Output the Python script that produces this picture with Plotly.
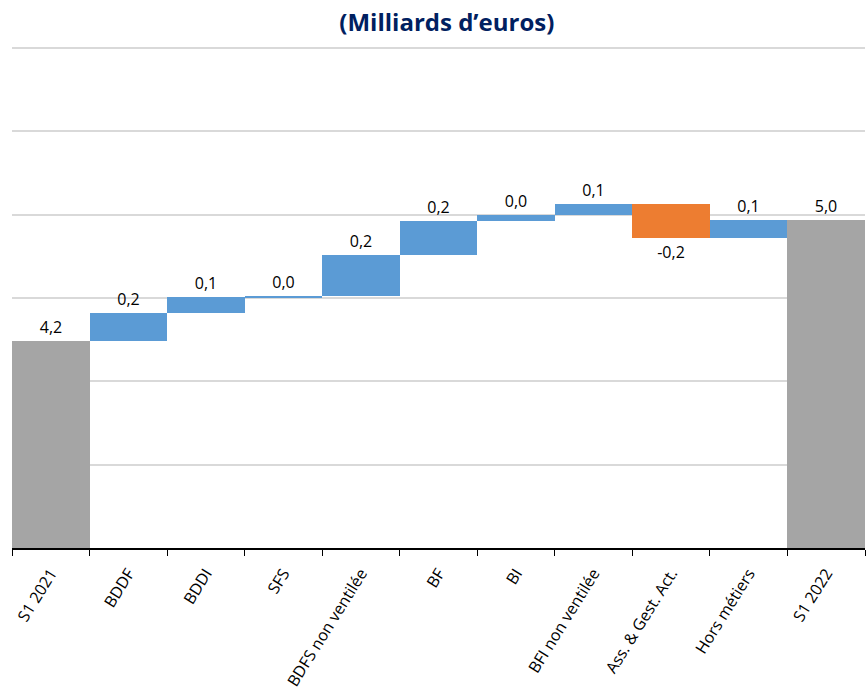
import plotly.graph_objects as go

categories = ["S1 2021", "BDDF", "BDDI", "SFS", "BDFS non ventilée", "BF", "BI",
              "BFI non ventilée", "Ass. & Gest. Act.", "Hors métiers", "S1 2022"]
start_value = 4.245
deltas = [0.164, 0.096, 0.008, 0.247, 0.202, 0.038, 0.062, -0.204, 0.112]

measures = ["absolute"] + ["relative"] * len(deltas) + ["total"]
values = [start_value] + deltas + [0]
end_value = start_value + sum(deltas)


def fr(v):
    return f"{v:.1f}".replace(".", ",")


texts = [fr(start_value)] + [fr(d) for d in deltas] + [fr(end_value)]

fig = go.Figure(go.Waterfall(
    x=categories,
    y=values,
    measure=measures,
    text=texts,
    textposition="outside",
    textfont=dict(family="Open Sans", size=16, color="#000000"),
    increasing=dict(marker=dict(color="#5B9BD5")),
    decreasing=dict(marker=dict(color="#ED7D31")),
    totals=dict(marker=dict(color="#A5A5A5")),
    connector=dict(visible=False),
    cliponaxis=False,
))

fig.update_layout(
    width=866, height=697,
    margin=dict(l=12, r=1, t=43, b=149, autoexpand=False),
    paper_bgcolor="white", plot_bgcolor="white",
    waterfallgap=0,
    showlegend=False,
    title=dict(text="<b>(Milliards d’euros)</b>", x=0.516, xanchor="center",
               y=0.968, yanchor="middle",
               font=dict(family="Open Sans", size=24, color="#002060")),
    font=dict(family="Open Sans", color="#000000"),
)
fig.update_xaxes(
    type="category",
    automargin=False,
    tickangle=-58,
    tickson="boundaries",
    ticks="outside", ticklen=6, tickcolor="#000000",
    ticklabelstandoff=8,
    showline=True, linecolor="#000000", linewidth=1.5,
    tickfont=dict(family="Open Sans", size=16, color="#000000"),
    showgrid=False,
)
fig.update_yaxes(
    automargin=False,
    range=[3.0, 6.03], dtick=0.5, tick0=3.0,
    showticklabels=False, showgrid=True, gridcolor="#D9D9D9", gridwidth=1.5,
    zeroline=False, showline=False,
)

fig.write_html("out.html",
               config={"displayModeBar": False},
               post_script="document.body.style.margin='0';document.body.style.overflow='hidden';")
